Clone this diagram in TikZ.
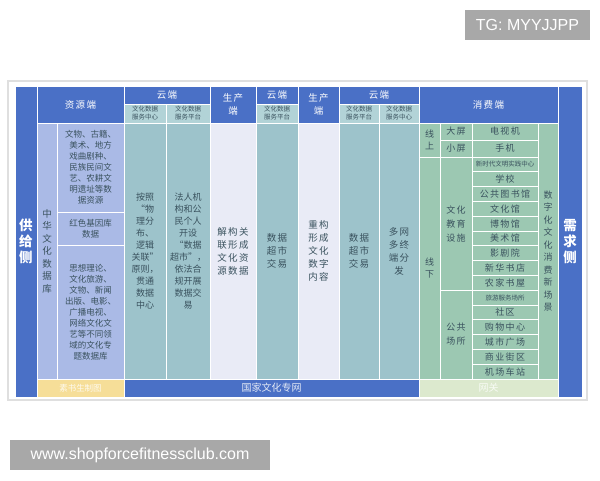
\documentclass[tikz,border=0pt]{standalone}
\usepackage{fontspec}
\setmainfont{Liberation Sans}
\newfontfamily\cjk{Noto Sans CJK SC}
\newfontfamily\cjkwide{Noto Sans CJK SC}[LetterSpace=15]
\usepackage{tikz}
\definecolor{hdrblue}{RGB}{74,112,198}
\definecolor{resfill}{RGB}{170,186,230}
\definecolor{cloudfill}{RGB}{157,195,203}
\definecolor{cloudsub}{RGB}{178,211,215}
\definecolor{prodfill}{RGB}{233,235,246}
\definecolor{consfill}{RGB}{156,200,178}
\definecolor{bodytext}{RGB}{58,82,94}
\definecolor{footyellow}{RGB}{246,222,152}
\definecolor{footgreen}{RGB}{220,233,206}
\definecolor{wmgray}{RGB}{168,168,168}
\tikzstyle{cell} = [draw=white, line width=1pt, inner sep=0pt, align=center]
\tikzstyle{sidecell} = [cell, fill=hdrblue, text=white, font=\cjk\bfseries\fontsize{13.5}{16}\selectfont]
\tikzstyle{headcell} = [cell, fill=hdrblue, text=white, font=\cjkwide\fontsize{9.5}{12.5}\selectfont]
\tikzstyle{subcell} = [cell, fill=cloudsub, text=bodytext, font=\cjk\fontsize{6.5}{8}\selectfont]
\tikzstyle{rescell} = [cell, fill=resfill, text=bodytext, font=\cjk\fontsize{8.5}{11}\selectfont]
\tikzstyle{cloudcell} = [cell, fill=cloudfill, text=bodytext, font=\cjk\fontsize{9}{12}\selectfont]
\tikzstyle{prodcell} = [cell, fill=prodfill, text=bodytext, font=\cjkwide\fontsize{9.5}{13}\selectfont]
\tikzstyle{conscell} = [cell, fill=consfill, text=bodytext, font=\cjkwide\fontsize{9}{12.5}\selectfont]
\tikzstyle{smallitem} = [font=\cjk\fontsize{6.5}{8}\selectfont]
\tikzstyle{footcell} = [cell, minimum height=18pt, font=\cjk\fontsize{10}{12}\selectfont]
\tikzstyle{wmark} = [fill=wmgray, text=white, inner sep=0pt, font=\fontsize{16}{18}\selectfont]

\begin{document}
\begin{tikzpicture}[x=1pt,y=-1pt]
  \useasboundingbox (0,0) rectangle (600,480);
  \fill[white] (0,0) rectangle (600,480);
  \draw[gray!25, line width=1.5pt, fill=white] (8,81) rectangle (587,400);

  % supply and demand sides
  \node[sidecell, minimum width=22pt, minimum height=311pt] at (26,241.5) (supply) {供\\给\\侧};
  \node[sidecell, minimum width=24pt, minimum height=311pt] at (570,241.5) (demand) {需\\求\\侧};

  % header row
  \node[headcell, minimum width=87pt, minimum height=37pt] at (80.5,104.5) (reshd) {资源端};
  \node[headcell, minimum width=86pt, minimum height=18pt] at (167,95) (cloudhdA) {云端};
  \node[subcell, minimum width=42pt, minimum height=19pt] at (145,113.5) (centerA) {文化数据\\服务中心};
  \node[subcell, minimum width=44pt, minimum height=19pt] at (188,113.5) (platA) {文化数据\\服务平台};
  \node[headcell, minimum width=46pt, minimum height=37pt] at (233,104.5) (prodhdA) {生产\\端};
  \node[headcell, minimum width=42pt, minimum height=18pt] at (277,95) (cloudhdB) {云端};
  \node[subcell, minimum width=42pt, minimum height=19pt] at (277,113.5) (platB) {文化数据\\服务平台};
  \node[headcell, minimum width=41pt, minimum height=37pt] at (318.5,104.5) (prodhdB) {生产\\端};
  \node[headcell, minimum width=80pt, minimum height=18pt] at (379,95) (cloudhdC) {云端};
  \node[subcell, minimum width=40pt, minimum height=19pt] at (359,113.5) (platC) {文化数据\\服务平台};
  \node[subcell, minimum width=40pt, minimum height=19pt] at (399,113.5) (centerC) {文化数据\\服务中心};
  \node[headcell, minimum width=139pt, minimum height=37pt] at (488.5,104.5) (conshd) {消费端};

  % resource side
  \node[rescell, minimum width=20pt, minimum height=256pt, font=\cjk\fontsize{9.5}{12.5}\selectfont] at (47,251) (db) {中\\华\\文\\化\\数\\据\\库};
  \node[rescell, minimum width=67pt, minimum height=89pt] at (90.5,167.5) (relic) {文物、古籍、\\美术、地方\\戏曲剧种、\\民族民间文\\艺、农耕文\\明遗址等数\\据资源};
  \node[rescell, minimum width=67pt, minimum height=33pt] at (90.5,228.5) (redgene) {红色基因库\\数据};
  \node[rescell, minimum width=67pt, minimum height=134pt] at (90.5,312) (themedb) {思想理论、\\文化旅游、\\文物、新闻\\出版、电影、\\广播电视、\\网络文化文\\艺等不同领\\域的文化专\\题数据库};

  % cloud and production columns
  \node[cloudcell, minimum width=42pt, minimum height=256pt] at (145,251) (linkA) {按照\\“物\\理分\\布、\\逻辑\\关联”\\原则，\\贯通\\数据\\中心};
  \node[cloudcell, minimum width=44pt, minimum height=256pt] at (188,251) (marketA) {法人机\\构和公\\民个人\\开设\\“数据\\超市”，\\依法合\\规开展\\数据交\\易};
  \node[prodcell, minimum width=46pt, minimum height=256pt] at (233,251) (decon) {解构关\\联形成\\文化资\\源数据};
  \node[cloudcell, minimum width=42pt, minimum height=256pt, font=\cjkwide\fontsize{9.5}{13}\selectfont] at (277,251) (marketB) {数据\\超市\\交易};
  \node[prodcell, minimum width=41pt, minimum height=256pt] at (318.5,251) (recon) {重构\\形成\\文化\\数字\\内容};
  \node[cloudcell, minimum width=40pt, minimum height=256pt, font=\cjkwide\fontsize{9.5}{13}\selectfont] at (359,251) (marketC) {数据\\超市\\交易};
  \node[cloudcell, minimum width=40pt, minimum height=256pt, font=\cjkwide\fontsize{9.5}{13}\selectfont] at (399,251) (distrib) {多网\\多终\\端分\\发};

  % consumer side
  \node[conscell, minimum width=21pt, minimum height=34pt] at (429.5,140) (online) {线\\上};
  \node[conscell, minimum width=21pt, minimum height=222pt] at (429.5,268) (offline) {线\\下};
  \node[conscell, minimum width=32pt, minimum height=17pt] at (456,131.5) (bigscr) {大屏};
  \node[conscell, minimum width=32pt, minimum height=17pt] at (456,148.5) (smallscr) {小屏};
  \node[conscell, minimum width=32pt, minimum height=133.2pt, font=\cjkwide\fontsize{9}{14}\selectfont] at (456,223.6) (facility) {文化\\教育\\设施};
  \node[conscell, minimum width=32pt, minimum height=88.8pt, font=\cjkwide\fontsize{9}{14}\selectfont] at (456,334.6) (public) {公共\\场所};

  \node[conscell, minimum width=66pt, minimum height=17pt] at (505,131.5) (tv) {电视机};
  \node[conscell, minimum width=66pt, minimum height=17pt] at (505,148.5) (phone) {手机};
  \node[conscell, smallitem, minimum width=66pt, minimum height=14.8pt] at (505,164.4) (practice) {新时代文明实践中心};
  \node[conscell, minimum width=66pt, minimum height=14.8pt] at (505,179.2) (school) {学校};
  \node[conscell, minimum width=66pt, minimum height=14.8pt] at (505,194) (library) {公共图书馆};
  \node[conscell, minimum width=66pt, minimum height=14.8pt] at (505,208.8) (culture) {文化馆};
  \node[conscell, minimum width=66pt, minimum height=14.8pt] at (505,223.6) (museum) {博物馆};
  \node[conscell, minimum width=66pt, minimum height=14.8pt] at (505,238.4) (gallery) {美术馆};
  \node[conscell, minimum width=66pt, minimum height=14.8pt] at (505,253.2) (theater) {影剧院};
  \node[conscell, minimum width=66pt, minimum height=14.8pt] at (505,268) (xinhua) {新华书店};
  \node[conscell, minimum width=66pt, minimum height=14.8pt] at (505,282.8) (farmlib) {农家书屋};
  \node[conscell, smallitem, minimum width=66pt, minimum height=14.8pt] at (505,297.6) (tourism) {旅游服务场所};
  \node[conscell, minimum width=66pt, minimum height=14.8pt] at (505,312.4) (community) {社区};
  \node[conscell, minimum width=66pt, minimum height=14.8pt] at (505,327.2) (mall) {购物中心};
  \node[conscell, minimum width=66pt, minimum height=14.8pt] at (505,342) (plaza) {城市广场};
  \node[conscell, minimum width=66pt, minimum height=14.8pt] at (505,356.8) (street) {商业街区};
  \node[conscell, minimum width=66pt, minimum height=14.8pt] at (505,371.6) (station) {机场车站};

  \node[conscell, minimum width=20pt, minimum height=256pt] at (548,251) (scene) {数\\字\\化\\文\\化\\消\\费\\新\\场\\景};

  % bottom bar
  \node[footcell, fill=footyellow, text=white!85!footyellow, minimum width=87pt, font=\cjk\fontsize{8.5}{10}\selectfont] at (80.5,388) (credit) {素书生制图};
  \node[footcell, fill=hdrblue, text=white!85!hdrblue, minimum width=295pt] at (271.5,388) (net) {国家文化专网};
  \node[footcell, fill=footgreen, text=white!80!footgreen, minimum width=139pt] at (488.5,388) (gateway) {网关};

  % marks
  \node[wmark, minimum width=125pt, minimum height=30pt] at (527.5,25) (tg) {TG: MYYJJPP};
  \node[wmark, minimum width=260pt, minimum height=30pt] at (140,455) (site) {www.shopforcefitnessclub.com};
\end{tikzpicture}
\end{document}
